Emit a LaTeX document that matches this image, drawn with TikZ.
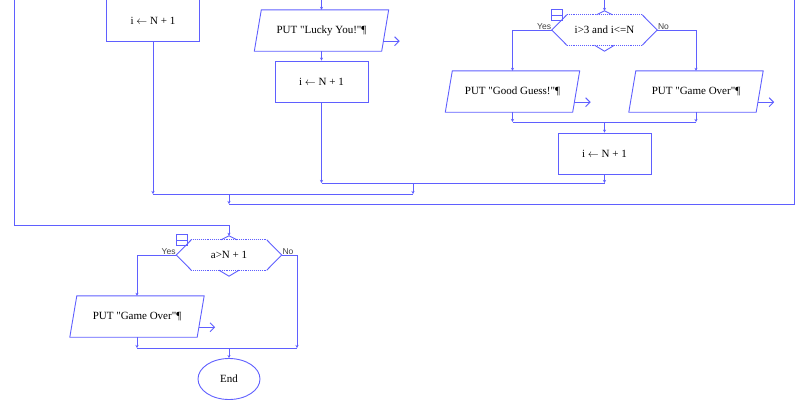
\documentclass[tikz,border=0pt]{standalone}
\usepackage{fontspec}
\newfontfamily\flowfont{Liberation Serif}
\newfontfamily\yesnofont{Liberation Sans}
\usetikzlibrary{arrows.meta,shapes.geometric}
\definecolor{flowblue}{RGB}{95,95,255}

\begin{document}
\begin{tikzpicture}[
  x=1pt,
  y=-1pt,
  font=\flowfont\fontsize{11}{13}\selectfont,
  line/.style={draw=flowblue, line width=0.9pt},
  flow/.style={line, -{Stealth[length=3pt,width=3pt]}},
  outarr/.style={line, -{Straight Barb[length=4.5pt,width=9pt]}},
  proc/.style={line, minimum width=93pt, minimum height=41pt, inner sep=0pt},
  io/.style={minimum width=134pt, minimum height=41pt, inner sep=0pt},
  cond/.style={minimum width=105pt, minimum height=30pt, inner sep=0pt},
  lab/.style={font=\yesnofont\fontsize{8.5}{10}\selectfont, text=black!75, inner sep=0.6pt}
]
\useasboundingbox (0,0) rectangle (801,402);

% left branch, cut at the top
\node[minimum width=93pt, minimum height=41pt, inner sep=0pt] (incL) at (153,21) {i $\leftarrow$ N + 1};
\draw[line] ([yshift=10pt]incL.north west) -- (incL.south west) -- (incL.south east) -- ([yshift=10pt]incL.north east);

% middle branch
\coordinate (inM) at (321.5,-5);
\node[io] (putLucky) at (321.5,30.5) {PUT "Lucky You!"¶};
\node[proc] (incM) at (321.5,81.5) {i $\leftarrow$ N + 1};

% right branch
\coordinate (inR) at (604.5,-5);
\node[cond] (condR) at (604.5,30) {i>3 and i<=N};
\node[io] (putGood) at (512.5,91.5) {PUT "Good Guess!"¶};
\node[io] (putOverR) at (696,91.5) {PUT "Game Over"¶};
\node[proc] (incR) at (604.5,153.5) {i $\leftarrow$ N + 1};

% after the loop
\node[cond] (condA) at (229,255) {a>N + 1};
\node[io] (putOverA) at (137,316.5) {PUT "Game Over"¶};
\node[ellipse, line, minimum width=62pt, minimum height=41pt, inner sep=0pt] (endA) at (229,379) {End};

% yes / no
\node[lab, anchor=south east] (yesR) at (condR.west) {Yes};
\node[lab, anchor=south west] (noR) at (condR.east) {No};
\node[lab, anchor=south east] (yesA) at (condA.west) {Yes};
\node[lab, anchor=south west] (noA) at (condA.east) {No};

% decision outlines
\foreach \c in {condR,condA} {
  \draw[line] ([xshift=15pt]\c.north west) -- (\c.west) -- ([xshift=15pt]\c.south west);
  \draw[line] ([xshift=-15pt]\c.north east) -- (\c.east) -- ([xshift=-15pt]\c.south east);
  \draw[line, densely dotted] ([xshift=15pt]\c.north west) -- ([xshift=-15pt]\c.north east);
  \draw[line, densely dotted] ([xshift=15pt]\c.south west) -- ([xshift=-15pt]\c.south east);
  \draw[line] ([xshift=-8pt]\c.north) -- ([yshift=4pt]\c.north) -- ([xshift=8pt]\c.north);
  \draw[line] ([xshift=-10pt]\c.south) -- ([yshift=-6pt]\c.south) -- ([xshift=10pt]\c.south);
  \draw[line, line width=0.7pt] ([yshift=5pt]\c.north west) rectangle ([xshift=11pt,yshift=-6pt]\c.north west);
  \draw[line, line width=0.7pt] ([yshift=-0.5pt]\c.north west) -- ([xshift=11pt,yshift=-0.5pt]\c.north west);
}

% output boxes
\foreach \p in {putLucky,putGood,putOverR,putOverA} {
  \draw[line] ([xshift=7pt]\p.north west) -- (\p.north east) -- ([xshift=-7pt]\p.south east) -- (\p.south west) -- cycle;
  \draw[outarr] ([xshift=-5pt,yshift=10pt]\p.south east) -- ++(16,0);
}

% merge points
\coordinate (mGood) at (512.5,122);
\coordinate (mOver) at (696,122);
\coordinate (mR) at (604.5,122);
\coordinate (jM) at (321.5,183);
\coordinate (jR) at (604.5,183);
\coordinate (jMR) at (413,183);
\coordinate (jMRd) at (413,194);
\coordinate (jL) at (153,194);
\coordinate (jAll) at (229,194);
\coordinate (jAlld) at (229,204);
\coordinate (loopR) at (794,-5);
\coordinate (loopL) at (14,-5);
\coordinate (exitL) at (229,225);
\coordinate (noEnd) at (297,348);
\coordinate (mA) at (137,348);
\coordinate (mEnd) at (229,348);

% connectors
\draw[flow] (inM) -- (putLucky);
\draw[flow] (putLucky) -- (incM);
\draw[flow] (incM) -- (jM);
\draw[flow] (inR) -- ([yshift=4pt]condR.north);
\draw[flow] (condR.west) -| (putGood);
\draw[flow] (condR.east) -| (putOverR);
\draw[flow] (putGood) -- (mGood);
\draw[flow] (putOverR) -- (mOver);
\draw[line] (mGood) -- (mOver);
\draw[flow] (mR) -- (incR);
\draw[flow] (incR) -- (jR);
\draw[line] (jM) -- (jR);
\draw[flow] (jMR) -- (jMRd);
\draw[flow] (incL) -- (jL);
\draw[line] (jL) -- (jMRd);
\draw[flow] (jAll) -- (jAlld);
\draw[line] (jAlld) -| (loopR);
\draw[line] (loopL) |- (exitL);
\draw[flow] (exitL) -- ([yshift=4pt]condA.north);
\draw[flow] (condA.west) -| (putOverA);
\draw[flow] (condA.east) -| (noEnd);
\draw[flow] (putOverA) -- (mA);
\draw[line] (mA) -- (noEnd);
\draw[flow] (mEnd) -- (endA);
\end{tikzpicture}
\end{document}
